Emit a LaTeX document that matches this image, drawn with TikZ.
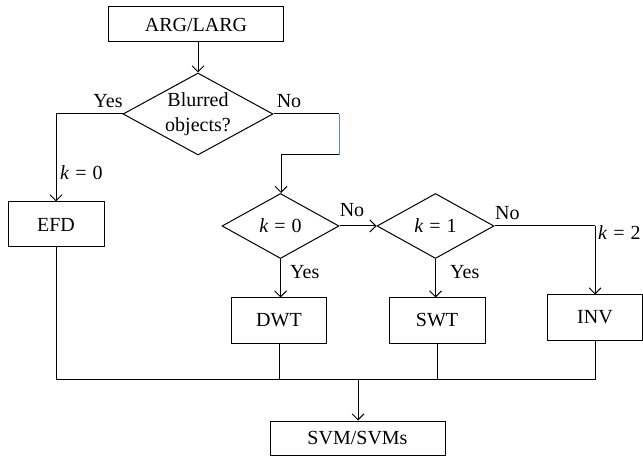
\documentclass[tikz,border=0pt]{standalone}
\usepackage{fontspec}
\setmainfont{Liberation Serif}
\usetikzlibrary{shapes.geometric,arrows.meta}
\newcommand{\keq}[1]{\textit{k}\hspace{0.3em}=\hspace{0.3em}#1}
\begin{document}
\begin{tikzpicture}[x=1pt,y=-1pt,
  every node/.style={font=\fontsize{20}{25}\selectfont},
  procbox/.style={draw,line width=1pt,rectangle,inner sep=0pt},
  decision/.style={draw,line width=1pt,diamond,inner sep=0pt},
  flow/.style={line width=1pt},
  arr/.style={flow,-{Straight Barb[length=6pt,width=12pt,line width=1pt]}},
  lbl/.style={inner sep=0pt}]
\useasboundingbox (0,0) rectangle (643,457);
\definecolor{bluish}{rgb}{0.40,0.52,0.78}

% process boxes
\node[procbox,minimum width=175pt,minimum height=35pt] (arg) at (196,24.5) {ARG/LARG};
\node[procbox,minimum width=96pt,minimum height=45pt] (efd) at (56,224.5) {EFD};
\node[procbox,minimum width=95pt,minimum height=45pt] (dwt) at (279,320.5) {DWT};
\node[procbox,minimum width=96pt,minimum height=45pt] (swt) at (437,320.5) {SWT};
\node[procbox,minimum width=95pt,minimum height=45pt] (inv) at (595,317.5) {INV};
\node[procbox,minimum width=175pt,minimum height=34pt] (svm) at (357.5,438) {SVM/SVMs};

% decisions
\node[decision,minimum width=150pt,minimum height=82pt] (d1) at (198,114) {};
\node[lbl,align=center] (d1t) at (d1.center) {Blurred\\objects?};
\node[decision,minimum width=117pt,minimum height=65pt] (d2) at (280.5,226) {};
\node[lbl] (d2t) at (d2.center) {\keq{0}};
\node[decision,minimum width=117pt,minimum height=65pt] (d3) at (435.5,226) {};
\node[lbl] (d3t) at (d3.center) {\keq{1}};

% junction points
\coordinate (lt) at (56,114);
\coordinate (rt) at (339,114);
\coordinate (rb) at (339,155);
\coordinate (ct) at (281,155);
\coordinate (kt) at (595,226);
\coordinate (busl) at (56,379);
\coordinate (busr) at (595,379);
\coordinate (busm) at (358,379);

% connectors
\draw[arr] (arg.south -| d1.north) -- (d1.north);
\draw[flow] (d1.west) -- (lt);
\draw[arr] (lt) -- (efd.north);
\draw[flow] (d1.east) -- (rt);
\draw[flow,color=bluish] (rt) -- (rb);
\draw[flow] (rb) -- (ct);
\draw[arr] (ct) -- (ct |- d2.north);
\draw[arr] (d2.east) -- (d3.west);
\draw[flow] (d3.east) -- (kt);
\draw[arr] (kt) -- (inv.north);
\draw[arr] (d2.south) -- (d2.south |- dwt.north);
\draw[arr] (d3.south) -- (d3.south |- swt.north);
\draw[flow] (efd.south) -- (busl) -- (busr) -- (inv.south);
\draw[flow] (dwt.south) -- (dwt.south |- busl);
\draw[flow] (swt.south) -- (swt.south |- busl);
\draw[arr] (busm) -- (busm |- svm.north);

% branch labels
\node[lbl] (yes1) at (108,101) {Yes};
\node[lbl] (no1) at (289,101) {No};
\node[lbl,anchor=west] (k0) at (60,173) {\keq{0}};
\node[lbl] (no2) at (352,210) {No};
\node[lbl,anchor=west] (no3) at (495,213) {No};
\node[lbl,anchor=west] (k2) at (598,233) {\keq{2}};
\node[lbl,anchor=west] (yes2) at (290,272) {Yes};
\node[lbl,anchor=west] (yes3) at (450,272) {Yes};
\end{tikzpicture}
\end{document}
